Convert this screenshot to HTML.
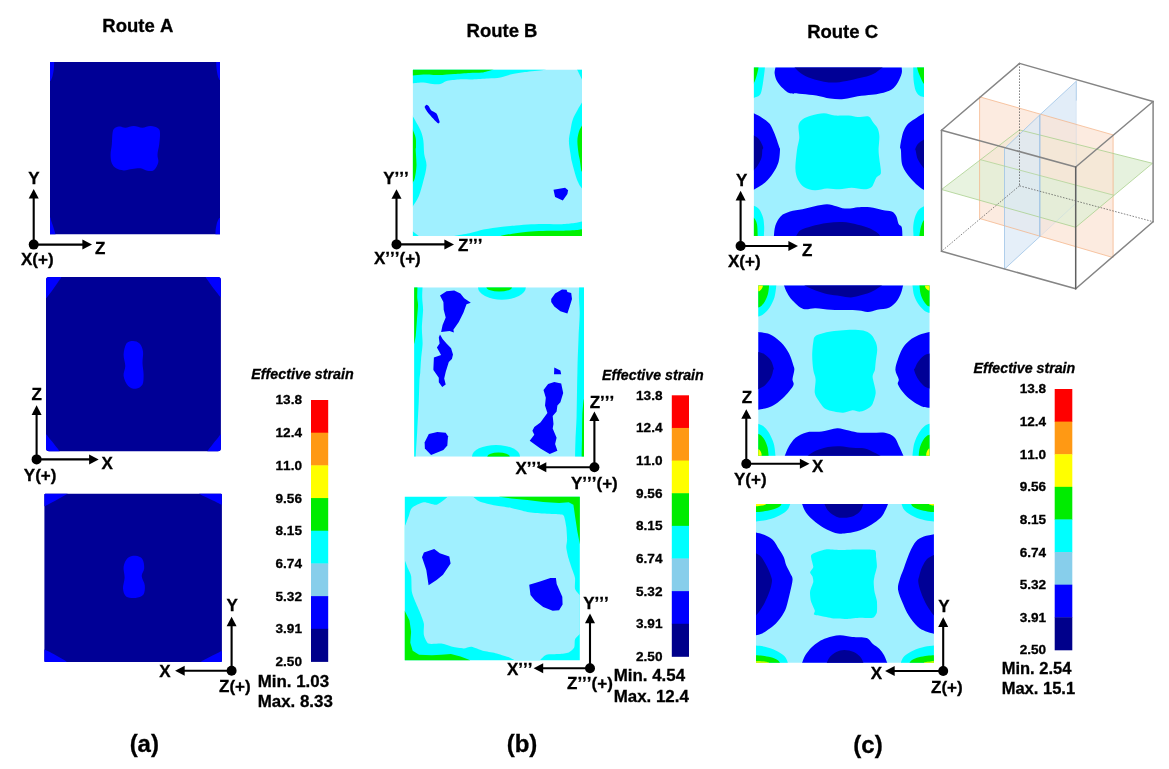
<!DOCTYPE html>
<html><head><meta charset="utf-8"><title>Effective strain - Routes A, B, C</title>
<style>
html,body{margin:0;padding:0;background:#fff;}
body{width:1169px;height:769px;overflow:hidden;font-family:"Liberation Sans",sans-serif;}
svg{display:block;}
text{font-family:"Liberation Sans",sans-serif;font-weight:bold;fill:#000;stroke:#000;stroke-width:0.3px;font-kerning:none;}
.rt{font-size:18.5px;}
.ax{font-size:17px;}
.lv{font-size:13.6px;}
.ti{font-size:14px;font-style:italic;}
.mm{font-size:16.9px;}
.cap{font-size:24px;}
</style></head><body>
<svg width="1169" height="769" viewBox="0 0 1169 769">
<rect width="1169" height="769" fill="#fff"/>
<text x="137.8" y="31.8" text-anchor="middle" class="rt">Route A</text>
<text x="502" y="37.3" text-anchor="middle" class="rt">Route B</text>
<text x="842.6" y="38.1" text-anchor="middle" class="rt">Route C</text>
<text x="144.3" y="752.4" text-anchor="middle" class="cap">(a)</text>
<text x="522" y="752" text-anchor="middle" class="cap">(b)</text>
<text x="868" y="753" text-anchor="middle" class="cap">(c)</text>
<clipPath id="c1"><rect x="50.0" y="62.0" width="170.0" height="172.3" rx="0.0"/></clipPath>
<g clip-path="url(#c1)">
<rect x="49.0" y="61.0" width="172.0" height="174.3" fill="#000096"/>
<path d="M112.7,131.9C113.2,129.1 113.9,128.6 115.2,127.7C116.5,126.8 118.6,126.4 120.3,126.4C122.0,126.4 123.1,127.8 125.4,127.7C127.6,127.6 131.0,126.0 133.8,126.0C136.6,126.0 139.4,127.7 142.3,127.7C145.1,127.7 148.0,125.8 150.7,126.0C153.4,126.1 156.8,127.3 158.3,128.5C159.9,129.8 159.9,130.9 160.0,133.6C160.2,136.3 159.6,141.1 159.2,144.6C158.7,148.1 157.6,151.8 157.5,154.7C157.3,157.7 158.9,159.8 158.3,162.3C157.8,164.9 155.9,168.5 154.1,169.9C152.3,171.4 149.6,171.1 147.3,170.8C145.1,170.5 143.1,168.5 140.6,168.3C138.0,168.0 134.9,168.7 132.1,169.1C129.3,169.5 126.3,170.5 123.7,170.4C121.0,170.2 118.0,169.5 116.1,168.3C114.1,167.1 112.8,165.4 111.8,163.2C110.9,160.9 110.6,157.8 110.6,154.7C110.6,151.6 111.5,148.4 111.8,144.6C112.2,140.8 112.1,134.7 112.7,131.9Z" fill="#0000ff"/>
<path d="M54.2,59.0C54.2,59.5 54.3,60.3 54.2,62.0C54.1,63.7 54.0,66.9 53.8,69.2C53.5,71.5 53.0,73.9 52.6,75.7C52.2,77.4 51.6,78.8 51.2,79.7C50.7,80.6 50.7,80.8 50.0,81.0C49.3,81.2 47.5,81.0 47.0,81.0L47.0,59.0Z" fill="#0000ff"/>
<path d="M216.2,59.0C216.2,59.5 216.1,60.4 216.2,62.0C216.3,63.6 216.3,66.7 216.6,68.8C216.8,71.0 217.3,73.3 217.6,75.0C218.0,76.6 218.5,77.9 218.9,78.7C219.3,79.6 219.3,79.8 220.0,80.0C220.7,80.2 222.5,80.0 223.0,80.0L223.0,59.0Z" fill="#0000ff"/>
<path d="M55.5,237.3C55.5,236.8 55.8,235.7 55.5,234.3C55.2,233.0 54.5,230.8 54.0,229.2C53.5,227.6 53.0,225.9 52.5,224.4C52.0,223.0 51.5,221.6 51.1,220.4C50.7,219.2 50.7,217.8 50.0,217.3C49.3,216.8 47.5,217.3 47.0,217.3L47.0,237.3Z" fill="#0000ff"/>
<path d="M215.4,237.3C215.4,236.8 215.3,235.8 215.4,234.3C215.5,232.8 215.6,230.0 215.9,228.0C216.2,226.1 216.7,223.9 217.1,222.4C217.6,220.9 218.2,219.7 218.7,219.0C219.2,218.2 219.3,218.0 220.0,217.8C220.7,217.6 222.5,217.8 223.0,217.8L223.0,237.3Z" fill="#0000ff"/>
</g>
<g stroke="#000" stroke-width="2.1" fill="#000">
<circle cx="33.7" cy="244.6" r="5" stroke="none"/>
<line x1="33.7" y1="244.6" x2="33.7" y2="196.0"/>
<path d="M33.7,189.0 l-5,9.6 l10,0 Z" stroke="none"/>
<line x1="33.7" y1="244.6" x2="85.0" y2="244.6"/>
<path d="M92.0,244.6 l-9.6,-5 l0,10 Z" stroke="none"/>
</g>
<text x="34.0" y="184.2" text-anchor="middle" class="ax">Y</text>
<text x="95.0" y="253.8" text-anchor="start" class="ax">Z</text>
<text x="21.0" y="265.3" text-anchor="start" class="ax">X(+)</text>
<clipPath id="c2"><rect x="46.0" y="277.1" width="174.9" height="174.2" rx="3.0"/></clipPath>
<g clip-path="url(#c2)">
<rect x="45.0" y="276.1" width="176.9" height="176.2" fill="#000096"/>
<path d="M126.4,343.5C128.0,341.3 130.8,341.0 133.0,341.0C135.2,341.0 137.9,341.8 139.6,343.5C141.3,345.3 142.6,348.3 143.0,351.6C143.5,354.8 142.4,359.2 142.5,363.0C142.6,366.8 143.6,370.9 143.6,374.4C143.6,378.0 143.7,382.1 142.5,384.5C141.2,386.8 138.3,388.5 135.9,388.8C133.5,389.0 130.2,388.0 128.2,385.9C126.1,383.7 124.1,379.2 123.6,375.9C123.1,372.5 125.3,369.4 125.3,365.9C125.3,362.3 123.4,358.1 123.6,354.4C123.8,350.7 124.9,345.8 126.4,343.5Z" fill="#0000ff"/>
<path d="M61.4,274.1C61.4,274.6 62.1,275.5 61.4,277.1C60.7,278.7 58.5,281.4 57.1,283.5C55.7,285.5 54.3,287.6 52.9,289.4C51.6,291.2 50.2,293.0 49.1,294.5C47.9,296.0 47.0,297.7 46.0,298.3C45.0,298.9 43.5,298.3 43.0,298.3L43.0,274.1Z" fill="#0000ff"/>
<path d="M205.5,274.1C205.5,274.6 204.8,275.6 205.5,277.1C206.2,278.6 208.4,281.2 209.8,283.2C211.2,285.2 212.6,287.2 214.0,288.9C215.3,290.7 216.7,292.4 217.8,293.8C219.0,295.3 219.9,296.9 220.9,297.5C221.9,298.1 223.4,297.5 223.9,297.5L223.9,274.1Z" fill="#0000ff"/>
<path d="M59.5,454.3C59.5,453.8 60.1,452.7 59.5,451.3C58.9,449.9 57.0,447.8 55.7,446.2C54.5,444.6 53.2,442.9 52.1,441.4C50.9,440.0 49.7,438.6 48.7,437.4C47.7,436.2 47.0,434.8 46.0,434.3C45.0,433.8 43.5,434.3 43.0,434.3L43.0,454.3Z" fill="#0000ff"/>
<path d="M207.4,454.3C207.4,453.8 206.8,452.7 207.4,451.3C208.0,449.9 209.9,447.8 211.2,446.2C212.4,444.6 213.7,442.9 214.8,441.4C216.0,440.0 217.2,438.6 218.2,437.4C219.2,436.2 220.0,434.8 220.9,434.3C221.8,433.8 223.4,434.3 223.9,434.3L223.9,454.3Z" fill="#0000ff"/>
</g>
<g stroke="#000" stroke-width="2.1" fill="#000">
<circle cx="36.6" cy="459.4" r="5" stroke="none"/>
<line x1="36.6" y1="459.4" x2="36.6" y2="412.3"/>
<path d="M36.6,405.3 l-5,9.6 l10,0 Z" stroke="none"/>
<line x1="36.6" y1="459.4" x2="91.7" y2="459.4"/>
<path d="M98.7,459.4 l-9.6,-5 l0,10 Z" stroke="none"/>
</g>
<text x="36.6" y="400.0" text-anchor="middle" class="ax">Z</text>
<text x="101.5" y="469.0" text-anchor="start" class="ax">X</text>
<text x="23.8" y="481.0" text-anchor="start" class="ax">Y(+)</text>
<clipPath id="c3"><rect x="44.4" y="493.7" width="177.5" height="168.2" rx="1.0"/></clipPath>
<g clip-path="url(#c3)">
<rect x="43.4" y="492.7" width="179.5" height="170.2" fill="#000096"/>
<path d="M127.7,558.0C129.7,556.2 133.0,555.7 135.5,555.8C137.9,556.0 140.9,556.9 142.3,559.0C143.8,561.0 144.3,565.5 144.2,568.3C144.1,571.2 141.6,573.3 141.7,576.1C141.8,579.0 144.6,582.4 144.8,585.5C145.1,588.6 144.8,592.8 143.3,594.8C141.7,596.9 138.3,597.7 135.5,598.0C132.6,598.2 128.2,598.0 126.1,596.4C124.0,594.8 123.3,591.7 123.0,588.6C122.7,585.5 124.5,581.3 124.6,577.7C124.7,574.0 123.1,570.0 123.6,566.8C124.1,563.5 125.7,559.8 127.7,558.0Z" fill="#0000ff"/>
<path d="M67.4,490.7C67.4,491.2 68.5,492.6 67.4,493.7C66.3,494.8 63.1,496.2 61.0,497.4C58.9,498.7 56.7,499.9 54.8,500.9C52.8,502.0 50.7,503.1 49.0,503.9C47.3,504.8 45.7,505.8 44.4,506.2C43.1,506.6 41.9,506.2 41.4,506.2L41.4,490.7Z" fill="#0000ff"/>
<path d="M199.4,490.7C199.4,491.2 198.3,492.6 199.4,493.7C200.5,494.8 203.6,495.9 205.7,497.0C207.8,498.1 209.8,499.1 211.8,500.1C213.7,501.0 215.7,501.9 217.4,502.7C219.1,503.5 220.7,504.4 221.9,504.7C223.2,505.0 224.4,504.7 224.9,504.7L224.9,490.7Z" fill="#0000ff"/>
<path d="M66.9,664.9C66.9,664.4 68.0,663.0 66.9,661.9C65.9,660.8 62.7,659.4 60.6,658.1C58.5,656.9 56.5,655.7 54.5,654.6C52.6,653.6 50.6,652.5 48.9,651.6C47.2,650.8 45.6,649.8 44.4,649.4C43.1,649.0 41.9,649.4 41.4,649.4L41.4,664.9Z" fill="#0000ff"/>
<path d="M200.9,664.9C200.9,664.4 199.9,662.9 200.9,661.9C201.9,660.9 204.9,659.7 206.8,658.6C208.7,657.5 210.6,656.5 212.5,655.5C214.3,654.6 216.1,653.6 217.7,652.9C219.3,652.1 220.7,651.2 221.9,650.9C223.1,650.6 224.4,650.9 224.9,650.9L224.9,664.9Z" fill="#0000ff"/>
</g>
<g stroke="#000" stroke-width="2.1" fill="#000">
<circle cx="231.6" cy="670.7" r="5" stroke="none"/>
<line x1="231.6" y1="670.7" x2="231.6" y2="623.7"/>
<path d="M231.6,616.7 l-5,9.6 l10,0 Z" stroke="none"/>
<line x1="231.6" y1="670.7" x2="182.1" y2="670.7"/>
<path d="M175.1,670.7 l9.6,-5 l0,10 Z" stroke="none"/>
</g>
<text x="232.2" y="611.0" text-anchor="middle" class="ax">Y</text>
<text x="170.5" y="677.0" text-anchor="end" class="ax">X</text>
<text x="219.0" y="691.7" text-anchor="start" class="ax">Z(+)</text>
<rect x="311.0" y="400.00" width="17.2" height="33.09" fill="#ff0000"/>
<rect x="311.0" y="432.69" width="17.2" height="33.09" fill="#ff9914"/>
<rect x="311.0" y="465.38" width="17.2" height="33.09" fill="#ffff00"/>
<rect x="311.0" y="498.06" width="17.2" height="33.09" fill="#00ec00"/>
<rect x="311.0" y="530.75" width="17.2" height="33.09" fill="#00ffff"/>
<rect x="311.0" y="563.44" width="17.2" height="33.09" fill="#87ceeb"/>
<rect x="311.0" y="596.12" width="17.2" height="33.09" fill="#0000ff"/>
<rect x="311.0" y="628.81" width="17.2" height="33.09" fill="#00008b"/>
<text x="302.0" y="404.4" text-anchor="end" class="lv" style="font-size:13.6px">13.8</text>
<text x="302.0" y="437.1" text-anchor="end" class="lv" style="font-size:13.6px">12.4</text>
<text x="302.0" y="469.8" text-anchor="end" class="lv" style="font-size:13.6px">11.0</text>
<text x="302.0" y="502.5" text-anchor="end" class="lv" style="font-size:13.6px">9.56</text>
<text x="302.0" y="535.2" text-anchor="end" class="lv" style="font-size:13.6px">8.15</text>
<text x="302.0" y="567.8" text-anchor="end" class="lv" style="font-size:13.6px">6.74</text>
<text x="302.0" y="600.5" text-anchor="end" class="lv" style="font-size:13.6px">5.32</text>
<text x="302.0" y="633.2" text-anchor="end" class="lv" style="font-size:13.6px">3.91</text>
<text x="302.0" y="665.9" text-anchor="end" class="lv" style="font-size:13.6px">2.50</text>
<text x="302.5" y="378.5" text-anchor="middle" class="ti" style="font-size:14.3px">Effective strain</text>
<text x="257.7" y="686.5" class="mm" style="font-size:16.9px">Min. 1.03</text>
<text x="257.7" y="706.7" class="mm" style="font-size:16.9px">Max. 8.33</text>
<clipPath id="c4"><rect x="412.9" y="69.8" width="169.1" height="166.2" rx="0.0"/></clipPath>
<g clip-path="url(#c4)">
<rect x="411.9" y="68.8" width="171.1" height="168.2" fill="#a0f0ff"/>
<path d="M408.0,83.7C408.7,83.6 410.9,83.4 412.9,83.2C415.0,83.1 420.8,82.4 423.4,82.5C426.0,82.6 430.4,83.8 432.6,84.0C434.9,84.2 438.5,84.4 440.3,84.0C442.2,83.6 444.0,81.6 446.5,80.9C449.0,80.3 455.3,79.6 458.8,79.4C462.3,79.2 468.8,79.5 472.7,79.4C476.6,79.3 484.4,78.9 488.1,78.6C491.8,78.4 497.1,78.2 500.4,77.6C503.7,76.9 509.4,74.7 512.7,74.0C516.0,73.3 520.9,72.6 525.0,72.0C529.1,71.5 540.6,70.3 543.5,69.9C546.4,69.4 546.2,68.8 546.6,68.6L546.6,64.0L408.0,64.0Z" fill="#00ffff"/>
<path d="M408.0,75.7C408.7,75.7 410.9,75.7 412.9,75.5C415.0,75.4 419.9,74.5 423.4,74.5C426.8,74.4 434.7,75.1 438.8,75.1C442.9,75.0 450.1,74.3 454.2,74.0C458.3,73.7 465.9,73.1 469.6,72.9C473.3,72.7 478.9,72.9 481.9,72.5C484.9,72.1 490.3,70.4 491.9,69.9C493.6,69.3 493.9,68.8 494.2,68.6L494.2,64.0L408.0,64.0Z" fill="#00f000"/>
<path d="M576.6,68.6L585.1,68.6L585.1,80.9L582.0,79.4Z" fill="#00ffff"/>
<path d="M411.1,113.3C411.4,113.8 411.9,114.6 412.9,116.4C414.0,118.2 415.9,121.5 417.2,124.1C418.6,126.6 420.1,128.9 421.1,131.8C422.1,134.6 422.9,137.3 423.4,141.0C423.9,144.7 423.7,149.9 424.2,153.9C424.7,158.0 426.6,160.9 426.5,165.4C426.4,169.9 424.7,175.7 423.4,180.8C422.1,185.9 420.5,192.0 418.8,196.2C417.0,200.4 414.2,204.0 412.9,206.2C411.6,208.4 411.4,208.8 411.1,209.3L408.0,209.3L408.0,113.3Z" fill="#00ffff"/>
<path d="M411.8,127.9C412.0,128.3 412.3,128.5 412.9,130.2C413.6,131.9 415.2,135.1 415.7,137.9C416.2,140.7 416.0,145.1 416.0,147.2C416.0,149.2 415.6,147.0 415.7,150.0C415.8,153.0 416.6,160.8 416.5,165.4C416.3,170.0 415.5,174.9 414.9,177.7C414.3,180.5 413.4,181.2 412.9,182.3C412.4,183.5 412.0,184.3 411.8,184.6L408.0,184.6L408.0,127.9Z" fill="#00f000"/>
<path d="M584.3,99.4C583.9,99.9 583.2,100.7 582.0,102.5C580.9,104.3 578.9,107.4 577.4,110.2C575.8,113.0 573.9,116.1 572.8,119.4C571.6,122.8 571.1,126.6 570.5,130.2C569.8,133.8 568.9,137.0 568.9,141.0C568.9,144.9 569.9,150.4 570.5,153.9C571.0,157.5 571.1,158.6 572.0,162.3C572.9,166.0 574.7,172.6 575.8,176.2C577.0,179.8 577.9,181.8 578.9,183.9C580.0,185.9 581.1,187.2 582.0,188.5C582.9,189.8 583.9,191.1 584.3,191.6L586.6,191.6L586.6,99.4Z" fill="#00ffff"/>
<path d="M583.5,123.3C583.3,123.7 582.8,124.2 582.0,125.6C581.2,127.0 579.7,129.2 578.9,131.8C578.2,134.3 577.4,137.3 577.4,141.0C577.3,144.7 578.2,150.9 578.6,153.9C579.0,157.0 579.3,156.6 579.7,159.2C580.1,161.9 580.9,168.0 581.2,170.0C581.6,172.1 581.6,171.0 582.0,171.6C582.4,172.1 583.3,172.8 583.5,173.1L586.6,173.1L586.6,123.3Z" fill="#00f000"/>
<path d="M451.1,237.0C451.5,236.9 451.7,236.4 454.2,235.9C456.7,235.4 465.5,234.0 469.6,233.2C473.7,232.3 480.9,230.1 485.0,229.3C489.1,228.5 496.3,227.5 500.4,227.0C504.5,226.5 511.7,225.8 515.8,225.5C519.9,225.1 527.1,224.4 531.2,224.2C535.3,224.0 542.5,223.9 546.6,223.9C550.7,223.9 558.3,224.3 562.0,224.2C565.7,224.1 571.6,223.5 574.3,223.1C577.0,222.8 580.6,221.9 582.0,221.6C583.4,221.3 584.7,221.2 585.1,221.1L585.1,242.4L451.1,242.4Z" fill="#00ffff"/>
<path d="M497.3,237.0C497.7,236.9 497.9,236.4 500.4,235.9C502.9,235.4 511.7,233.7 515.8,233.2C519.9,232.6 527.1,231.9 531.2,231.6C535.3,231.3 542.5,230.9 546.6,230.8C550.7,230.7 557.9,230.9 562.0,230.8C566.1,230.7 574.7,230.3 577.4,230.1C580.1,229.9 581.0,229.4 582.0,229.3C583.0,229.2 584.7,229.2 585.1,229.1L585.1,242.4L497.3,242.4Z" fill="#00f000"/>
<path d="M411.1,230.1L412.9,231.6L418.8,235.9L420.3,237.8L411.1,237.8Z" fill="#00ffff"/>
<path d="M424.6,107.1C424.6,106.4 426.1,104.9 426.5,104.8C426.9,104.7 428.3,105.8 428.8,106.3C429.3,106.9 430.3,109.5 431.1,110.2C431.9,110.9 435.6,112.4 436.5,113.6C437.3,114.7 439.4,120.8 439.6,121.7C439.7,122.7 438.7,123.7 438.0,123.3C437.3,122.9 433.7,119.1 432.6,117.9C431.6,116.7 428.0,112.8 427.2,111.7C426.4,110.7 424.7,107.8 424.6,107.1Z" fill="#0000ff"/>
<path d="M553.5,189.7L565.1,187.7L568.1,190.3L567.4,193.9L562.8,200.5L555.1,197.0Z" fill="#0000ff"/>
</g>
<g stroke="#000" stroke-width="2.1" fill="#000">
<circle cx="396.5" cy="244.4" r="5" stroke="none"/>
<line x1="396.5" y1="244.4" x2="396.5" y2="196.2"/>
<path d="M396.5,189.2 l-5,9.6 l10,0 Z" stroke="none"/>
<line x1="396.5" y1="244.4" x2="447.0" y2="244.4"/>
<path d="M454.0,244.4 l-9.6,-5 l0,10 Z" stroke="none"/>
</g>
<text x="395.9" y="184.0" text-anchor="middle" class="ax">Y’’’</text>
<text x="458.0" y="250.8" text-anchor="start" class="ax">Z’’’</text>
<text x="374.0" y="264.2" text-anchor="start" class="ax">X’’’(+)</text>
<clipPath id="c5"><rect x="414.2" y="287.4" width="169.8" height="169.1" rx="0.0"/></clipPath>
<g clip-path="url(#c5)">
<rect x="413.2" y="286.4" width="171.8" height="171.1" fill="#a0f0ff"/>
<path d="M422.6,285.1C422.6,286.7 422.1,294.1 422.2,297.4C422.2,300.7 423.1,305.6 423.1,309.7C423.0,313.8 421.9,323.7 421.9,328.2C421.8,332.7 422.7,339.5 422.6,343.6C422.5,347.7 421.4,355.2 421.1,359.0C420.8,362.8 420.5,369.2 420.3,371.9C420.1,374.6 419.8,375.4 419.5,379.2C419.3,383.1 419.1,393.8 418.8,400.8C418.5,407.8 417.6,424.2 417.2,431.6C416.8,439.0 415.9,452.4 415.7,456.5C415.5,460.6 415.7,461.6 415.7,462.4L408.0,462.4L408.0,285.1Z" fill="#00ffff"/>
<path d="M417.5,285.1C417.5,286.7 417.2,294.7 417.2,297.4C417.3,300.1 418.1,302.0 418.0,305.1C418.0,308.2 417.2,316.4 416.9,320.5C416.6,324.6 416.1,332.8 415.7,335.9C415.3,339.0 414.6,342.4 414.2,343.6C413.7,344.8 412.8,344.9 412.6,345.1L408.0,345.1L408.0,285.1Z" fill="#00f000"/>
<path d="M579.2,285.1C579.2,286.7 578.9,293.7 578.9,297.4C579.0,301.1 579.7,307.7 579.7,312.8C579.7,317.9 578.9,329.7 578.6,335.9C578.4,342.1 577.9,354.2 577.7,359.0C577.5,363.8 577.5,368.4 577.4,371.9C577.3,375.4 577.2,379.5 577.1,385.4C577.0,391.3 576.8,409.0 576.6,416.2C576.4,423.4 575.7,433.9 575.5,439.3C575.3,444.7 575.1,453.5 575.1,456.5C575.0,459.6 575.1,461.6 575.1,462.4L589.7,462.4L589.7,285.1Z" fill="#00ffff"/>
<path d="M585.1,397.7C584.9,398.1 583.9,398.3 583.5,400.8C583.2,403.3 582.5,411.1 582.3,416.2C582.1,421.3 582.1,433.9 582.0,439.3C581.9,444.7 581.7,453.5 581.7,456.5C581.7,459.6 581.7,461.6 581.7,462.4L589.7,462.4L589.7,397.7Z" fill="#00f000"/>
<path d="M478.0,287.4 A23.9,12.3 0 0 0 525.8,287.4 L525.8,282.4 L478.0,282.4 Z" fill="#00ffff"/>
<path d="M486.5,287.4 A12.7,4.2 0 0 0 511.9,287.4 L511.9,282.4 L486.5,282.4 Z" fill="#00f000"/>
<path d="M472.0,456.5 A24.0,11.5 0 0 1 520.0,456.5 L520.0,461.5 L472.0,461.5 Z" fill="#00ffff"/>
<path d="M487.3,456.5 A11.2,4.0 0 0 1 509.7,456.5 L509.7,461.5 L487.3,461.5 Z" fill="#00f000"/>
<path d="M440.0,295.6L446.5,291.2L454.2,290.5L460.4,293.5L464.2,298.2L470.8,302.8L466.5,304.3L463.4,312.8L458.8,322.0L453.4,329.7L453.9,332.5L449.6,331.0L441.1,332.0L442.6,325.1L445.7,317.4L443.7,309.7L443.4,302.0Z" fill="#0000ff"/>
<path d="M440.0,334.4L442.6,339.0L446.5,343.6L451.1,348.2L453.0,354.4L451.9,359.0L448.8,362.1L445.7,371.9L444.2,378.5L445.7,384.6L442.2,386.9L438.8,382.3L438.8,377.7L433.4,370.0L433.4,368.2L433.9,357.5L441.1,355.1L436.9,347.4L439.6,343.6L438.8,337.4Z" fill="#0000ff"/>
<path d="M551.2,298.9L555.1,293.5L562.0,289.4L566.6,289.7L567.4,292.0L571.2,293.1L572.0,298.9L569.7,306.6L567.4,313.6L560.4,311.3L554.3,306.6L551.2,302.0Z" fill="#0000ff"/>
<path d="M554.3,367.5L560.4,370.5L561.2,374.3L554.0,374.3Z" fill="#0000ff"/>
<path d="M543.5,390.0L548.1,383.9L554.3,382.0L561.2,383.6L563.2,393.1L560.4,402.3L557.4,405.4L556.6,411.6L552.7,415.9L553.5,423.9L552.7,428.5L556.6,437.8L555.1,443.9L557.4,450.8L549.7,453.9L540.4,448.5L529.7,440.8L534.3,434.7L532.4,430.8L534.3,427.0L540.4,422.4L547.4,413.1L545.0,405.4L545.8,397.7Z" fill="#0000ff"/>
<path d="M424.6,442.4L428.8,433.9L437.3,432.1L445.7,432.8L448.0,436.2L447.3,445.5L443.4,450.1L431.1,455.0L424.9,448.5Z" fill="#0000ff"/>
</g>
<g stroke="#000" stroke-width="2.1" fill="#000">
<circle cx="594.4" cy="467.3" r="5" stroke="none"/>
<line x1="594.4" y1="467.3" x2="594.4" y2="418.5"/>
<path d="M594.4,411.5 l-5,9.6 l10,0 Z" stroke="none"/>
<line x1="594.4" y1="467.3" x2="543.7" y2="467.3"/>
<path d="M536.7,467.3 l9.6,-5 l0,10 Z" stroke="none"/>
</g>
<text x="602.0" y="408.0" text-anchor="middle" class="ax">Z’’’</text>
<text x="541.0" y="474.0" text-anchor="end" class="ax">X’’’</text>
<text x="571.0" y="489.0" text-anchor="start" class="ax">Y’’’(+)</text>
<clipPath id="c6"><rect x="404.8" y="496.8" width="175.0" height="163.5" rx="0.0"/></clipPath>
<g clip-path="url(#c6)">
<rect x="403.8" y="495.8" width="177.0" height="165.5" fill="#00ffff"/>
<path d="M401.6,526.2C402.0,522.3 403.9,527.4 404.8,526.2C405.6,525.0 407.9,518.0 408.8,515.9C409.6,513.7 410.2,509.5 411.9,507.9C413.7,506.3 421.0,502.7 423.9,502.3C426.7,502.0 433.8,505.4 436.6,504.7C439.4,504.1 446.2,498.1 447.7,496.8C449.2,495.5 446.5,494.0 449.3,493.6C452.1,493.2 468.8,493.2 471.6,493.6C474.4,494.0 472.3,495.8 473.2,496.8C474.1,497.7 477.0,500.5 479.6,501.5C482.2,502.6 491.8,504.8 495.5,505.5C499.2,506.3 507.7,507.2 511.4,507.9C515.1,508.7 523.6,511.2 527.3,511.9C531.0,512.5 539.5,513.2 543.2,513.5C546.9,513.8 556.7,514.0 559.1,514.3C561.5,514.6 563.0,514.4 563.9,515.9C564.7,517.4 565.9,524.2 566.3,527.0C566.6,529.8 567.1,537.3 567.1,539.7C567.1,542.1 566.1,545.5 566.3,547.7C566.5,549.9 568.0,556.4 568.7,558.8C569.3,561.2 571.1,566.1 571.8,568.4C572.6,570.6 574.6,575.5 575.0,577.9C575.4,580.3 574.5,586.7 575.0,588.7C575.6,590.7 578.9,594.2 579.8,595.1C580.7,596.0 582.6,592.3 583.0,596.7C583.3,601.0 583.3,628.1 583.0,632.5C582.6,636.8 580.7,633.2 579.8,634.1C578.9,634.9 575.7,638.1 575.0,639.6C574.4,641.2 575.0,646.1 574.2,647.6C573.5,649.1 570.4,651.6 568.7,652.4C566.9,653.1 561.7,653.7 559.1,654.0C556.5,654.2 548.6,654.0 546.4,654.8C544.2,655.5 540.9,659.3 540.0,660.3C539.1,661.3 541.2,663.1 538.4,663.5C535.6,663.9 518.9,663.9 516.1,663.5C513.4,663.1 515.5,661.1 514.6,660.3C513.6,659.6 510.4,658.0 508.2,657.1C506.0,656.3 498.4,653.9 495.5,653.2C492.5,652.4 485.5,651.5 482.7,650.8C480.0,650.0 473.8,647.1 471.6,646.8C469.4,646.5 465.9,648.4 463.6,648.4C461.4,648.4 455.1,647.4 452.5,646.8C449.9,646.2 444.2,644.0 441.4,643.6C438.6,643.3 430.7,644.6 428.6,643.6C426.6,642.6 424.4,637.2 423.9,634.9C423.3,632.5 424.2,626.1 423.9,623.7C423.5,621.3 421.6,616.6 420.7,614.2C419.8,611.8 416.9,605.6 415.9,603.0C414.9,600.4 412.5,595.1 411.9,591.9C411.4,588.8 411.6,578.7 411.1,576.0C410.7,573.3 408.7,570.2 408.0,568.4C407.2,566.6 405.5,561.4 404.8,560.4C404.0,559.4 402.0,563.6 401.6,559.6C401.2,555.6 401.2,530.1 401.6,526.2Z" fill="#a0f0ff"/>
<path d="M499.4,496.8L511.4,498.4L527.3,500.0L543.2,501.9L559.1,503.1L568.7,502.3L573.4,504.7L575.0,515.9L577.4,531.8L579.8,543.7L583.0,545.3L583.0,492.0L499.4,492.0Z" fill="#00f000"/>
<path d="M404.8,611.0L409.5,620.6L411.1,631.7L410.3,642.8L412.7,650.8L419.1,654.8L431.8,655.2L441.4,654.8L450.9,654.0L460.5,656.4L468.4,659.5L470.0,660.3L470.0,665.1L400.0,665.1L400.0,609.4Z" fill="#00f000"/>
<path d="M422.0,557.2L423.9,552.5L434.2,549.0L439.8,553.3L449.3,556.4L450.6,563.6L443.0,574.7L436.6,580.0L428.6,585.2L426.3,570.0Z" fill="#0000ff"/>
<path d="M529.2,584.8L540.0,581.6L550.4,577.9L555.9,577.9L556.7,584.0L559.1,589.5L562.3,596.7L562.6,604.6L559.1,610.2L552.7,610.7L543.2,607.0L535.2,600.7L530.5,595.1Z" fill="#0000ff"/>
</g>
<g stroke="#000" stroke-width="2.1" fill="#000">
<circle cx="590.0" cy="668.2" r="5" stroke="none"/>
<line x1="590.0" y1="668.2" x2="590.0" y2="620.6"/>
<path d="M590.0,613.6 l-5,9.6 l10,0 Z" stroke="none"/>
<line x1="590.0" y1="668.2" x2="540.6" y2="668.2"/>
<path d="M533.6,668.2 l9.6,-5 l0,10 Z" stroke="none"/>
</g>
<text x="596.0" y="608.5" text-anchor="middle" class="ax">Y’’’</text>
<text x="532.5" y="675.0" text-anchor="end" class="ax">X’’’</text>
<text x="567.0" y="689.2" text-anchor="start" class="ax">Z’’’(+)</text>
<rect x="671.8" y="395.30" width="17.2" height="33.04" fill="#ff0000"/>
<rect x="671.8" y="427.94" width="17.2" height="33.04" fill="#ff9914"/>
<rect x="671.8" y="460.57" width="17.2" height="33.04" fill="#ffff00"/>
<rect x="671.8" y="493.21" width="17.2" height="33.04" fill="#00ec00"/>
<rect x="671.8" y="525.85" width="17.2" height="33.04" fill="#00ffff"/>
<rect x="671.8" y="558.49" width="17.2" height="33.04" fill="#87ceeb"/>
<rect x="671.8" y="591.12" width="17.2" height="33.04" fill="#0000ff"/>
<rect x="671.8" y="623.76" width="17.2" height="33.04" fill="#00008b"/>
<text x="662.5" y="399.7" text-anchor="end" class="lv" style="font-size:13.6px">13.8</text>
<text x="662.5" y="432.3" text-anchor="end" class="lv" style="font-size:13.6px">12.4</text>
<text x="662.5" y="465.0" text-anchor="end" class="lv" style="font-size:13.6px">11.0</text>
<text x="662.5" y="497.6" text-anchor="end" class="lv" style="font-size:13.6px">9.56</text>
<text x="662.5" y="530.2" text-anchor="end" class="lv" style="font-size:13.6px">8.15</text>
<text x="662.5" y="562.9" text-anchor="end" class="lv" style="font-size:13.6px">6.74</text>
<text x="662.5" y="595.5" text-anchor="end" class="lv" style="font-size:13.6px">5.32</text>
<text x="662.5" y="628.2" text-anchor="end" class="lv" style="font-size:13.6px">3.91</text>
<text x="662.5" y="660.8" text-anchor="end" class="lv" style="font-size:13.6px">2.50</text>
<text x="652.8" y="380.0" text-anchor="middle" class="ti" style="font-size:14.2px">Effective strain</text>
<text x="613.7" y="681.3" class="mm" style="font-size:16.9px">Min. 4.54</text>
<text x="613.7" y="701.6" class="mm" style="font-size:16.9px">Max. 12.4</text>
<clipPath id="c7"><rect x="753.9" y="67.4" width="170.1" height="168.6" rx="0.0"/></clipPath>
<g clip-path="url(#c7)">
<rect x="752.9" y="66.4" width="172.1" height="170.6" fill="#a0f0ff"/>
<path d="M775.4,64.0C775.4,64.6 775.5,65.8 775.4,67.4C775.3,68.9 774.4,71.0 774.6,73.2C774.9,75.5 775.5,78.4 776.9,80.9C778.4,83.5 780.9,86.6 783.1,88.6C785.3,90.7 786.8,92.4 790.0,93.3C793.2,94.2 798.0,93.6 802.4,94.0C806.7,94.4 811.6,94.8 816.2,95.6C820.8,96.3 825.5,98.1 830.1,98.6C834.7,99.2 839.3,99.5 843.9,99.1C848.6,98.7 853.2,97.1 857.8,96.3C862.4,95.6 867.8,95.3 871.7,94.8C875.5,94.3 877.6,94.2 880.9,93.3C884.2,92.4 888.8,91.2 891.7,89.4C894.5,87.6 896.2,85.2 897.8,82.5C899.5,79.8 901.0,75.8 901.7,73.2C902.3,70.7 901.7,68.9 901.7,67.4C901.7,65.8 901.7,64.6 901.7,64.0Z" fill="#0000ff"/>
<path d="M791.6,64.0C792.1,64.6 793.1,65.8 794.7,67.4C796.2,68.9 798.0,71.4 800.8,73.2C803.6,75.1 807.7,77.2 811.6,78.6C815.4,80.0 819.8,81.1 823.9,81.7C828.0,82.4 831.9,82.7 836.2,82.5C840.6,82.2 845.5,81.1 850.1,80.2C854.7,79.3 860.1,78.1 864.0,77.1C867.8,76.1 870.1,75.6 873.2,74.0C876.3,72.4 880.4,69.1 882.4,67.4C884.5,65.7 885.0,64.6 885.5,64.0Z" fill="#000096"/>
<path d="M750.0,111.0C750.6,111.4 751.8,112.1 753.8,113.3C755.9,114.4 759.8,116.2 762.3,117.9C764.9,119.6 767.5,121.2 769.2,123.3C771.0,125.3 771.9,127.8 773.1,130.2C774.3,132.7 775.2,135.1 776.2,137.9C777.2,140.7 778.6,145.1 779.3,147.2C779.9,149.2 780.2,147.5 780.0,150.0C779.9,152.5 779.6,158.5 778.5,162.3C777.3,166.2 775.3,169.8 773.1,173.1C770.9,176.4 768.6,179.6 765.4,182.3C762.2,185.1 756.4,188.1 753.8,189.7C751.3,191.3 750.6,191.5 750.0,191.9Z" fill="#0000ff"/>
<path d="M750.0,133.3C750.6,133.7 752.3,134.6 753.8,135.6C755.4,136.6 757.7,137.5 759.2,139.5C760.8,141.4 762.6,145.4 763.1,147.2C763.6,148.9 762.6,148.2 762.3,150.0C762.1,151.8 762.3,155.1 761.5,157.7C760.8,160.3 759.0,163.3 757.7,165.4C756.4,167.5 755.1,168.7 753.8,170.0C752.6,171.3 750.6,172.6 750.0,173.1Z" fill="#000096"/>
<path d="M928.6,111.0C927.9,111.4 926.1,112.1 924.0,113.3C922.0,114.4 918.9,116.2 916.3,117.9C913.7,119.6 910.7,121.2 908.6,123.3C906.6,125.3 905.1,127.8 904.0,130.2C902.8,132.7 902.3,135.1 901.7,137.9C901.0,140.7 900.3,145.1 900.1,147.2C900.0,149.2 900.5,147.0 900.9,150.0C901.3,153.0 900.9,160.8 902.4,165.4C904.0,170.0 907.6,174.4 910.1,177.7C912.7,181.1 915.5,183.4 917.8,185.4C920.2,187.5 922.2,188.9 924.0,190.0C925.8,191.2 927.9,192.0 928.6,192.3Z" fill="#0000ff"/>
<path d="M928.6,136.4C927.9,136.9 925.8,138.2 924.0,139.5C922.2,140.7 919.4,142.3 917.8,144.1C916.3,145.9 915.2,149.2 914.8,150.2C914.4,151.2 915.0,148.5 915.5,150.0C916.1,151.5 916.4,156.2 917.8,159.2C919.3,162.3 922.2,166.3 924.0,168.5C925.8,170.7 927.9,171.7 928.6,172.3Z" fill="#000096"/>
<path d="M798.5,125.6C799.0,122.8 800.4,120.9 802.4,119.4C804.3,117.9 808.4,116.5 811.6,115.6C814.8,114.7 820.4,113.3 823.9,113.3C827.4,113.3 831.0,115.2 834.7,115.6C838.4,115.9 845.1,115.4 848.6,115.6C852.0,115.8 854.8,117.0 857.8,117.1C860.8,117.2 866.3,115.5 868.6,116.4C870.9,117.2 871.8,120.7 873.2,122.5C874.6,124.4 876.9,126.6 877.8,128.7C878.7,130.8 879.2,133.2 879.4,136.4C879.5,139.6 878.6,146.6 878.6,150.0C878.6,153.4 879.0,155.8 879.4,159.2C879.7,162.7 881.4,170.3 880.9,173.1C880.4,175.9 877.7,175.6 876.3,177.7C874.9,179.8 873.5,185.2 871.7,187.0C869.8,188.7 867.0,189.2 864.0,189.3C860.9,189.4 855.3,187.7 851.6,187.7C847.9,187.7 843.0,189.2 839.3,189.3C835.6,189.4 830.7,188.3 827.0,188.5C823.3,188.7 818.1,190.6 814.7,190.3C811.2,190.1 806.4,188.6 803.9,187.0C801.4,185.3 799.0,182.0 797.7,179.3C796.5,176.5 795.5,172.9 795.4,168.5C795.3,164.1 796.4,154.6 797.0,150.0C797.5,145.4 799.0,141.6 799.3,137.9C799.5,134.3 798.0,128.4 798.5,125.6Z" fill="#00ffff"/>
<path d="M764.9,64.0C764.9,64.6 765.1,65.3 764.9,67.4C764.8,69.4 764.3,73.0 763.9,76.3C763.4,79.6 763.0,84.0 762.3,87.1C761.7,90.2 761.4,93.0 760.0,94.8C758.6,96.6 755.5,97.2 753.8,97.9C752.2,98.5 750.6,98.5 750.0,98.6L750.0,64.0Z" fill="#00ffff"/>
<path d="M758.5,64.0C758.5,64.6 758.7,65.6 758.5,67.4C758.2,69.2 757.7,72.1 756.9,74.8C756.2,77.4 755.0,81.6 753.8,83.2C752.7,84.9 750.6,84.5 750.0,84.8L750.0,64.0Z" fill="#00f000"/>
<path d="M913.2,64.0C913.2,64.6 913.2,64.8 913.2,67.4C913.3,70.0 913.2,75.6 913.5,79.4C913.9,83.2 914.6,87.5 915.5,90.2C916.5,92.9 918.0,94.4 919.4,95.6C920.8,96.7 922.5,96.8 924.0,97.1C925.5,97.4 927.9,97.5 928.6,97.6L928.6,64.0Z" fill="#00ffff"/>
<path d="M917.1,64.0C917.1,64.6 916.7,65.6 917.1,67.4C917.5,69.2 918.2,72.0 919.4,74.8C920.5,77.6 922.5,82.2 924.0,84.0C925.5,85.8 927.9,85.3 928.6,85.6L928.6,64.0Z" fill="#00f000"/>
<path d="M773.9,239.3C773.9,238.7 773.6,238.2 773.9,235.9C774.1,233.6 774.3,228.7 775.4,225.5C776.6,222.2 778.4,218.5 780.8,216.2C783.2,213.9 786.4,212.8 790.0,211.6C793.6,210.4 798.2,210.2 802.4,209.3C806.5,208.4 810.6,207.1 814.7,206.2C818.8,205.4 823.4,204.2 827.0,204.2C830.6,204.2 833.7,205.5 836.2,206.2C838.8,206.9 840.1,207.8 842.4,208.2C844.7,208.6 847.5,208.7 850.1,208.5C852.7,208.4 854.5,207.5 857.8,207.3C861.1,207.1 866.0,206.8 870.1,207.3C874.2,207.7 878.8,209.3 882.4,210.1C886.0,210.8 889.4,210.6 891.7,211.6C894.0,212.6 895.1,214.2 896.3,216.2C897.4,218.3 897.7,222.1 898.6,223.9C899.5,225.7 901.0,225.0 901.7,227.0C902.3,229.0 902.3,233.9 902.4,235.9C902.6,238.0 902.4,238.7 902.4,239.3Z" fill="#0000ff"/>
<path d="M793.9,239.3C794.3,238.7 795.0,237.5 796.2,235.9C797.4,234.4 798.2,231.7 800.8,230.1C803.4,228.5 807.2,227.4 811.6,226.2C816.0,225.1 821.9,223.8 827.0,223.1C832.1,222.5 837.3,221.8 842.4,222.1C847.5,222.3 853.2,223.6 857.8,224.7C862.4,225.8 866.8,227.1 870.1,228.5C873.4,229.9 876.1,231.9 877.8,233.2C879.5,234.4 879.4,234.9 880.1,235.9C880.9,237.0 882.0,238.7 882.4,239.3Z" fill="#000096"/>
<path d="M750.0,204.7C750.6,204.8 752.3,205.0 753.8,205.7C755.4,206.5 757.7,207.3 759.2,209.3C760.8,211.3 762.3,214.8 763.1,217.8C763.9,220.7 764.0,224.0 764.2,227.0C764.3,230.0 763.9,233.9 763.9,235.9C763.8,238.0 763.9,238.7 763.9,239.3L750.0,239.3Z" fill="#00ffff"/>
<path d="M750.0,216.2C750.6,216.5 752.7,216.5 753.8,217.8C755.0,219.0 756.3,220.9 756.9,223.9C757.6,226.9 757.6,233.4 757.7,235.9C757.8,238.5 757.7,238.7 757.7,239.3L750.0,239.3Z" fill="#00f000"/>
<path d="M928.6,205.1C927.9,205.3 925.7,205.4 924.0,206.2C922.3,207.0 920.2,208.1 918.6,210.1C917.1,212.0 915.7,214.9 914.8,217.8C913.9,220.6 913.4,224.0 913.2,227.0C913.0,230.0 913.5,233.9 913.5,235.9C913.6,238.0 913.5,238.7 913.5,239.3L928.6,239.3Z" fill="#00ffff"/>
<path d="M928.6,218.5C927.9,218.8 925.3,218.7 924.0,220.1C922.7,221.5 921.7,224.4 920.9,227.0C920.2,229.6 919.6,233.9 919.4,235.9C919.1,238.0 919.4,238.7 919.4,239.3L928.6,239.3Z" fill="#00f000"/>
</g>
<g stroke="#000" stroke-width="2.1" fill="#000">
<circle cx="740.6" cy="246.0" r="5" stroke="none"/>
<line x1="740.6" y1="246.0" x2="740.6" y2="197.8"/>
<path d="M740.6,190.8 l-5,9.6 l10,0 Z" stroke="none"/>
<line x1="740.6" y1="246.0" x2="791.0" y2="246.0"/>
<path d="M798.0,246.0 l-9.6,-5 l0,10 Z" stroke="none"/>
</g>
<text x="741.6" y="185.7" text-anchor="middle" class="ax">Y</text>
<text x="802.0" y="256.0" text-anchor="start" class="ax">Z</text>
<text x="728.0" y="266.5" text-anchor="start" class="ax">X(+)</text>
<clipPath id="c8"><rect x="758.3" y="285.4" width="171.2" height="170.4" rx="0.0"/></clipPath>
<g clip-path="url(#c8)">
<rect x="757.3" y="284.4" width="173.2" height="172.4" fill="#a0f0ff"/>
<path d="M783.3,282.0C783.4,282.6 783.4,283.6 784.0,285.4C784.7,287.2 785.7,290.3 787.1,292.8C788.5,295.3 789.8,297.8 792.5,300.5C795.2,303.2 799.4,307.7 803.3,308.9C807.1,310.2 811.0,308.0 815.6,308.2C820.2,308.3 825.9,309.4 831.0,309.7C836.1,310.0 841.8,309.9 846.4,310.0C851.0,310.2 855.1,310.2 858.7,310.5C862.3,310.8 864.9,312.2 868.0,312.0C871.0,311.9 873.6,310.5 877.2,309.7C880.8,308.9 886.2,308.9 889.5,307.4C892.8,305.9 895.3,302.9 897.2,300.5C899.1,298.0 900.1,295.3 901.1,292.8C902.0,290.3 902.6,287.2 903.1,285.4C903.5,283.6 903.6,282.6 903.7,282.0Z" fill="#0000ff"/>
<path d="M800.2,282.0C801.0,282.6 802.2,284.0 804.8,285.4C807.4,286.8 811.7,289.0 815.6,290.5C819.4,292.0 823.8,293.4 827.9,294.3C832.0,295.2 836.4,295.3 840.2,295.9C844.1,296.4 847.4,297.5 851.0,297.4C854.6,297.3 858.2,296.1 861.8,295.1C865.4,294.1 869.2,292.9 872.6,291.2C875.9,289.6 879.6,286.9 881.8,285.4C884.0,283.8 885.0,282.6 885.7,282.0Z" fill="#000096"/>
<path d="M754.0,331.6C754.7,331.7 756.0,331.7 758.3,332.0C760.6,332.4 764.7,332.4 767.9,333.6C771.0,334.7 774.3,336.8 777.1,339.0C779.9,341.2 782.6,343.9 784.8,346.7C787.0,349.5 788.8,352.8 790.2,355.9C791.6,359.0 792.6,362.8 793.3,365.2C794.0,367.5 794.5,367.7 794.3,370.0C794.2,372.3 792.7,376.7 792.5,379.2C792.3,381.8 794.6,382.6 793.3,385.4C792.0,388.2 787.7,393.1 784.8,396.2C781.8,399.3 778.4,402.0 775.6,403.9C772.7,405.8 770.7,406.8 767.9,407.7C765.0,408.7 760.6,409.3 758.3,409.7C756.0,410.2 754.7,410.2 754.0,410.3Z" fill="#0000ff"/>
<path d="M754.0,351.3C754.7,351.4 756.5,351.6 758.3,352.1C760.1,352.6 762.7,353.0 764.8,354.4C766.9,355.8 769.5,358.2 770.9,360.5C772.4,362.8 773.3,366.7 773.7,368.2C774.1,369.8 773.7,368.4 773.2,370.0C772.8,371.6 772.4,375.1 770.9,377.7C769.5,380.3 766.9,383.5 764.8,385.4C762.7,387.3 760.1,388.4 758.3,389.2C756.5,390.1 754.7,390.5 754.0,390.8Z" fill="#000096"/>
<path d="M934.2,331.3C933.4,331.4 932.1,331.4 929.5,332.0C927.0,332.7 922.1,333.7 918.8,335.1C915.4,336.5 912.2,338.3 909.5,340.5C906.8,342.7 904.5,345.1 902.6,348.2C900.7,351.3 899.2,355.4 898.0,359.0C896.8,362.6 895.2,366.6 895.4,370.0C895.5,373.4 898.3,376.8 898.7,379.2C899.2,381.7 897.0,382.1 898.0,384.6C899.0,387.2 902.2,391.7 904.9,394.6C907.6,397.6 911.1,400.3 914.1,402.3C917.2,404.4 920.8,406.1 923.4,407.0C926.0,407.9 927.8,407.5 929.5,407.7C931.3,407.9 933.4,408.1 934.2,408.2Z" fill="#0000ff"/>
<path d="M934.2,352.1C933.4,352.3 931.3,353.0 929.5,353.6C927.8,354.2 925.3,354.5 923.4,355.9C921.5,357.3 919.4,360.0 918.0,362.1C916.6,364.1 915.6,366.9 914.9,368.2C914.3,369.6 913.8,368.4 914.1,370.0C914.5,371.6 915.7,375.1 917.2,377.7C918.8,380.3 921.3,383.6 923.4,385.4C925.4,387.2 927.8,387.7 929.5,388.5C931.3,389.2 933.4,389.8 934.2,390.0Z" fill="#000096"/>
<path d="M812.2,355.9C812.2,351.7 812.8,345.1 813.3,342.1C813.8,339.1 813.4,337.4 815.6,335.9C817.8,334.4 824.2,332.9 827.9,332.0C831.6,331.2 836.5,330.9 840.2,330.5C843.9,330.2 849.1,329.7 852.6,329.7C856.0,329.7 860.6,329.8 863.3,330.5C866.1,331.2 869.2,332.6 871.0,334.4C872.9,336.1 874.7,339.7 875.7,342.1C876.6,344.4 877.2,346.8 877.2,349.8C877.2,352.8 876.0,359.0 875.7,362.1C875.3,365.1 875.3,367.9 874.9,370.0C874.4,372.1 872.7,374.1 872.6,376.2C872.5,378.2 873.6,381.3 874.1,383.9C874.6,386.4 875.9,390.1 875.7,393.1C875.4,396.1 873.7,401.6 872.6,403.9C871.4,406.2 869.8,407.3 868.0,408.5C866.1,409.7 862.6,411.3 860.3,411.6C857.9,411.9 855.1,410.2 852.6,410.3C850.0,410.5 846.1,412.6 843.3,412.8C840.5,413.0 836.8,412.2 834.1,411.6C831.3,410.9 827.1,410.1 824.8,408.5C822.5,406.9 820.2,403.1 818.7,400.8C817.2,398.5 815.3,396.3 814.8,393.1C814.4,389.9 815.8,382.7 815.6,379.2C815.4,375.8 813.8,373.5 813.3,370.0C812.8,366.5 812.2,360.1 812.2,355.9Z" fill="#00ffff"/>
<path d="M776.3,282.4C776.3,282.9 776.6,282.9 776.3,285.4C776.0,287.9 775.6,293.5 774.5,297.2C773.4,300.9 771.3,304.9 769.5,307.7C767.6,310.6 765.2,312.8 763.3,314.2C761.5,315.7 759.6,316.0 758.3,316.4C757.0,316.8 755.8,316.4 755.3,316.4L755.3,282.4Z" fill="#00ffff"/>
<path d="M769.1,282.4C769.1,282.9 769.3,283.5 769.1,285.4C768.9,287.3 768.7,291.1 768.0,293.8C767.3,296.4 766.1,299.2 765.0,301.2C763.9,303.3 762.4,304.8 761.3,305.9C760.2,306.9 759.3,307.1 758.3,307.4C757.3,307.7 755.8,307.4 755.3,307.4L755.3,282.4Z" fill="#00f000"/>
<path d="M762.9,282.4C762.9,282.9 763.0,284.5 762.9,285.4C762.8,286.3 762.7,286.9 762.4,287.6C762.1,288.4 761.6,289.1 761.2,289.6C760.7,290.2 760.1,290.6 759.6,290.9C759.1,291.2 759.0,291.2 758.3,291.3C757.6,291.4 755.8,291.3 755.3,291.3L755.3,282.4Z" fill="#ffff00"/>
<path d="M912.5,282.4C912.5,282.9 912.2,283.2 912.5,285.4C912.8,287.6 913.1,292.5 914.2,295.8C915.3,299.1 917.2,302.6 919.0,305.1C920.7,307.6 923.0,309.6 924.7,310.9C926.5,312.2 928.2,312.5 929.5,312.8C930.8,313.1 932.0,312.8 932.5,312.8L932.5,282.4Z" fill="#00ffff"/>
<path d="M919.5,282.4C919.5,282.9 919.3,283.6 919.5,285.4C919.7,287.2 919.9,290.9 920.5,293.4C921.1,295.9 922.3,298.6 923.3,300.5C924.3,302.4 925.7,303.9 926.7,304.9C927.7,305.9 928.5,306.2 929.5,306.4C930.5,306.6 932.0,306.4 932.5,306.4L932.5,282.4Z" fill="#00f000"/>
<path d="M924.9,282.4C924.9,282.9 924.8,284.6 924.9,285.4C925.0,286.2 925.1,286.8 925.4,287.4C925.7,288.0 926.2,288.7 926.6,289.1C927.1,289.6 927.7,290.0 928.2,290.2C928.7,290.5 928.8,290.5 929.5,290.6C930.2,290.7 932.0,290.6 932.5,290.6L932.5,282.4Z" fill="#ffff00"/>
<path d="M784.0,459.3C784.2,458.7 784.0,457.8 784.8,455.8C785.6,453.7 786.9,450.0 788.6,447.0C790.4,444.0 792.6,440.2 795.6,437.8C798.5,435.3 802.0,433.4 806.4,432.4C810.7,431.3 816.6,432.3 821.8,431.6C826.9,430.9 833.0,428.5 837.2,428.2C841.3,428.0 843.1,429.4 846.4,430.1C849.7,430.7 853.1,431.9 857.2,432.4C861.3,432.8 866.4,432.8 871.0,432.8C875.7,432.9 881.0,432.1 884.9,432.8C888.7,433.5 891.8,434.9 894.1,437.0C896.4,439.1 897.2,442.3 898.7,445.5C900.3,448.6 902.5,453.5 903.4,455.8C904.3,458.1 904.0,458.7 904.1,459.3Z" fill="#0000ff"/>
<path d="M803.3,459.3C804.0,458.7 805.8,457.2 807.9,455.8C809.9,454.4 812.3,452.3 815.6,450.8C818.9,449.4 823.8,447.8 827.9,447.0C832.0,446.2 836.1,446.1 840.2,446.2C844.3,446.4 848.4,447.4 852.6,447.8C856.7,448.1 861.3,447.8 864.9,448.5C868.5,449.3 871.5,451.2 874.1,452.4C876.7,453.6 878.6,454.6 880.3,455.8C881.9,456.9 883.5,458.7 884.1,459.3Z" fill="#000096"/>
<path d="M775.5,458.8C775.5,458.3 775.8,458.3 775.5,455.8C775.2,453.3 774.9,447.5 773.8,443.7C772.7,439.9 770.7,435.8 769.0,432.8C767.2,429.9 764.9,427.6 763.1,426.1C761.3,424.6 759.6,424.3 758.3,423.9C757.0,423.5 755.8,423.9 755.3,423.9L755.3,458.8Z" fill="#00ffff"/>
<path d="M768.6,458.8C768.6,458.3 768.8,457.7 768.6,455.8C768.4,453.9 768.2,450.1 767.6,447.5C766.9,444.9 765.8,442.0 764.7,440.0C763.6,438.0 762.2,436.5 761.2,435.4C760.1,434.4 759.3,434.2 758.3,433.9C757.3,433.6 755.8,433.9 755.3,433.9L755.3,458.8Z" fill="#00f000"/>
<path d="M761.7,458.8C761.7,458.3 761.8,456.7 761.7,455.8C761.6,454.9 761.6,454.1 761.4,453.3C761.1,452.5 760.8,451.7 760.4,451.1C760.1,450.5 759.6,450.1 759.3,449.8C758.9,449.5 759.0,449.4 758.3,449.3C757.6,449.2 755.8,449.3 755.3,449.3L755.3,458.8Z" fill="#ffff00"/>
<path d="M912.5,458.8C912.5,458.3 912.2,458.3 912.5,455.8C912.8,453.3 913.1,447.5 914.2,443.6C915.3,439.8 917.2,435.7 919.0,432.8C920.7,429.8 923.0,427.5 924.7,426.0C926.5,424.5 928.2,424.2 929.5,423.8C930.8,423.4 932.0,423.8 932.5,423.8L932.5,458.8Z" fill="#00ffff"/>
<path d="M918.7,458.8C918.7,458.3 918.5,457.6 918.7,455.8C918.9,454.0 919.1,450.3 919.8,447.8C920.5,445.3 921.7,442.6 922.8,440.7C923.9,438.8 925.4,437.2 926.5,436.3C927.6,435.3 928.5,435.0 929.5,434.8C930.5,434.6 932.0,434.8 932.5,434.8L932.5,458.8Z" fill="#00f000"/>
<path d="M926.1,458.8C926.1,458.3 926.0,456.8 926.1,455.8C926.2,454.8 926.2,453.9 926.4,453.1C926.7,452.2 927.0,451.3 927.4,450.6C927.7,450.0 928.2,449.4 928.5,449.1C928.9,448.8 928.8,448.7 929.5,448.6C930.2,448.5 932.0,448.6 932.5,448.6L932.5,458.8Z" fill="#ffff00"/>
</g>
<g stroke="#000" stroke-width="2.1" fill="#000">
<circle cx="746.3" cy="463.8" r="5" stroke="none"/>
<line x1="746.3" y1="463.8" x2="746.3" y2="416.2"/>
<path d="M746.3,409.2 l-5,9.6 l10,0 Z" stroke="none"/>
<line x1="746.3" y1="463.8" x2="802.5" y2="463.8"/>
<path d="M809.5,463.8 l-9.6,-5 l0,10 Z" stroke="none"/>
</g>
<text x="747.0" y="403.2" text-anchor="middle" class="ax">Z</text>
<text x="812.0" y="472.0" text-anchor="start" class="ax">X</text>
<text x="734.0" y="484.5" text-anchor="start" class="ax">Y(+)</text>
<clipPath id="c9"><rect x="756.0" y="504.0" width="177.9" height="158.8" rx="0.0"/></clipPath>
<g clip-path="url(#c9)">
<rect x="755.0" y="503.0" width="179.9" height="160.8" fill="#a0f0ff"/>
<path d="M800.5,500.0C800.8,500.7 801.2,501.9 802.1,504.0C803.0,506.1 803.8,509.7 806.1,512.7C808.4,515.8 812.2,519.5 815.6,522.3C819.1,525.1 823.1,527.6 826.8,529.4C830.5,531.3 834.5,532.8 837.9,533.4C841.4,534.0 843.8,533.6 847.5,533.1C851.2,532.6 856.2,531.6 860.2,530.2C864.2,528.8 867.9,526.8 871.3,524.7C874.8,522.5 878.5,520.0 880.9,517.5C883.3,515.0 884.5,511.8 885.7,509.5C886.8,507.3 887.4,505.6 888.0,504.0C888.7,502.4 889.4,500.7 889.6,500.0Z" fill="#0000ff"/>
<path d="M822.8,500.0C823.1,500.7 823.5,502.1 824.4,504.0C825.3,505.8 826.4,509.0 828.4,511.1C830.4,513.3 833.7,515.6 836.3,516.7C839.0,517.8 841.4,518.0 844.3,517.8C847.2,517.7 851.2,517.0 853.8,515.9C856.5,514.8 858.6,513.1 860.2,511.1C861.8,509.1 862.6,505.8 863.4,504.0C864.1,502.1 864.4,500.7 864.6,500.0Z" fill="#000096"/>
<path d="M752.0,531.8C752.7,532.0 753.9,532.1 756.0,532.6C758.1,533.1 761.9,533.8 764.7,535.0C767.5,536.2 770.3,537.4 772.7,539.8C775.1,542.2 777.2,546.4 779.0,549.3C780.9,552.2 782.6,554.6 783.8,557.3C785.0,559.9 785.1,562.6 786.2,565.2C787.3,567.9 789.1,570.8 790.2,573.2C791.2,575.6 792.6,576.2 792.6,579.6C792.5,582.9 790.9,588.5 789.9,593.1C788.8,597.8 787.5,603.7 786.2,607.5C784.9,611.2 784.0,612.8 782.2,615.4C780.5,618.1 778.3,621.0 775.9,623.4C773.5,625.8 770.3,628.0 767.9,629.7C765.5,631.5 763.5,632.8 761.5,633.7C759.6,634.6 757.6,634.9 756.0,635.3C754.4,635.7 752.7,636.0 752.0,636.1Z" fill="#0000ff"/>
<path d="M752.0,550.9C752.7,551.3 754.4,552.2 756.0,553.3C757.6,554.4 759.7,555.0 761.5,557.3C763.4,559.5 765.5,563.6 767.1,566.8C768.7,570.0 770.3,573.8 771.1,576.4C771.9,578.9 772.2,579.5 771.9,582.0C771.6,584.5 770.7,588.1 769.5,591.5C768.3,595.0 766.3,599.5 764.7,602.7C763.1,605.9 761.4,608.5 760.0,610.6C758.5,612.8 757.3,614.0 756.0,615.4C754.7,616.9 752.7,618.7 752.0,619.4Z" fill="#000096"/>
<path d="M938.2,533.4C937.4,533.5 936.2,533.7 933.9,534.2C931.5,534.7 926.8,535.4 923.8,536.6C920.8,537.8 918.0,539.2 915.9,541.4C913.8,543.5 912.6,546.4 911.1,549.3C909.7,552.2 908.5,555.4 907.1,558.9C905.8,562.3 904.4,566.6 903.2,570.0C901.9,573.5 900.5,576.2 899.7,579.6C898.8,582.9 897.5,585.8 898.1,590.0C898.6,594.1 901.4,600.0 903.2,604.3C904.9,608.5 906.3,611.7 908.7,615.4C911.1,619.1 914.7,623.9 917.5,626.6C920.3,629.2 922.7,630.1 925.4,631.3C928.2,632.5 931.7,633.2 933.9,633.7C936.0,634.2 937.4,634.4 938.2,634.5Z" fill="#0000ff"/>
<path d="M938.2,552.5C937.4,552.9 935.7,553.8 933.9,554.9C932.0,556.0 929.0,556.9 927.0,558.9C925.1,560.9 923.6,563.9 922.2,566.8C920.9,569.7 919.7,573.8 919.1,576.4C918.4,578.9 918.0,579.5 918.3,582.0C918.5,584.5 919.5,588.1 920.7,591.5C921.8,595.0 923.8,599.5 925.4,602.7C927.0,605.9 928.8,608.5 930.2,610.6C931.6,612.8 932.5,614.0 933.9,615.4C935.2,616.9 937.4,618.7 938.2,619.4Z" fill="#000096"/>
<path d="M812.5,576.4C812.1,575.4 810.0,573.3 810.1,572.4C810.2,571.4 813.2,568.5 813.3,566.8C813.3,565.2 810.6,557.1 810.9,555.7C811.1,554.3 814.1,553.1 815.6,552.5C817.2,551.9 824.2,549.6 826.8,549.3C829.3,549.1 838.2,550.1 841.1,550.1C844.0,550.2 852.1,549.6 855.4,549.6C858.8,549.6 872.4,549.4 874.5,550.1C876.6,550.9 875.9,555.6 876.1,557.3C876.3,558.9 877.1,564.9 876.9,566.8C876.7,568.7 874.8,574.9 874.5,576.4C874.2,577.9 873.7,580.5 873.7,582.0C873.7,583.5 874.2,589.6 874.5,591.5C874.8,593.5 876.7,599.0 876.9,601.1C877.1,603.2 877.3,610.6 876.9,612.2C876.5,613.9 874.6,617.2 872.9,617.8C871.3,618.4 862.7,617.7 860.2,617.8C857.6,617.9 850.0,618.8 847.5,618.9C844.9,619.0 837.3,618.9 834.7,618.6C832.2,618.3 824.1,616.6 822.0,616.2C819.9,615.8 814.8,615.2 814.1,614.6C813.3,614.1 815.2,612.0 814.8,610.6C814.5,609.3 811.3,603.0 810.9,601.1C810.4,599.2 809.8,593.5 810.1,591.5C810.3,589.6 813.0,583.5 813.3,582.0C813.5,580.5 812.8,577.3 812.5,576.4Z" fill="#00ffff"/>
<path d="M790.2,501.0C790.2,501.5 790.8,502.4 790.2,504.0C789.6,505.6 788.9,508.5 786.8,510.6C784.6,512.8 780.7,515.0 777.2,516.6C773.7,518.2 769.1,519.5 765.6,520.3C762.0,521.1 758.1,521.3 756.0,521.5C753.9,521.7 753.5,521.5 753.0,521.5L753.0,501.0Z" fill="#00ffff"/>
<path d="M781.5,501.0C781.5,501.5 781.9,503.0 781.5,504.0C781.1,505.0 780.6,506.1 779.0,507.0C777.3,508.0 774.4,509.0 771.8,509.8C769.2,510.5 765.8,511.1 763.1,511.4C760.5,511.8 757.7,511.9 756.0,512.0C754.3,512.1 753.5,512.0 753.0,512.0L753.0,501.0Z" fill="#00f000"/>
<path d="M766.0,501.0C766.0,501.5 766.2,503.4 766.0,504.0C765.8,504.6 765.6,504.6 765.0,504.8C764.4,505.1 763.2,505.4 762.2,505.6C761.2,505.8 759.8,505.9 758.8,506.0C757.8,506.1 757.0,506.2 756.0,506.2C755.0,506.2 753.5,506.2 753.0,506.2L753.0,501.0Z" fill="#ffff00"/>
<path d="M901.6,501.0C901.6,501.5 901.1,502.4 901.6,504.0C902.1,505.6 902.8,508.5 904.8,510.6C906.9,512.8 910.5,515.0 913.9,516.6C917.2,518.2 921.5,519.5 924.9,520.3C928.2,521.1 931.9,521.3 933.9,521.5C935.9,521.7 936.4,521.5 936.9,521.5L936.9,501.0Z" fill="#00ffff"/>
<path d="M911.1,501.0C911.1,501.5 910.7,503.0 911.1,504.0C911.5,505.0 911.9,506.1 913.4,507.0C914.8,508.0 917.4,509.0 919.8,509.8C922.1,510.5 925.2,511.1 927.5,511.4C929.9,511.8 932.3,511.9 933.9,512.0C935.5,512.1 936.4,512.0 936.9,512.0L936.9,501.0Z" fill="#00f000"/>
<path d="M928.9,501.0C928.9,501.5 928.8,503.4 928.9,504.0C929.0,504.6 929.1,504.4 929.4,504.6C929.7,504.8 930.3,504.9 930.8,505.1C931.3,505.2 932.0,505.3 932.5,505.4C933.0,505.5 933.2,505.5 933.9,505.5C934.6,505.5 936.4,505.5 936.9,505.5L936.9,501.0Z" fill="#ffff00"/>
<path d="M800.5,666.3C800.8,665.7 801.3,664.7 802.1,662.8C802.9,661.0 803.7,657.8 805.3,655.2C806.9,652.6 809.4,649.5 811.7,647.2C813.9,645.0 816.3,643.2 818.8,641.7C821.3,640.1 823.3,639.1 826.8,638.0C830.2,636.9 835.3,635.5 839.5,635.3C843.8,635.1 847.7,636.4 852.2,636.9C856.7,637.3 863.1,636.8 866.6,638.0C870.0,639.2 870.8,642.2 872.9,644.1C875.0,645.9 877.4,647.0 879.3,648.8C881.1,650.7 882.7,652.9 884.1,655.2C885.4,657.5 886.5,661.0 887.2,662.8C888.0,664.7 888.3,665.7 888.5,666.3Z" fill="#0000ff"/>
<path d="M825.5,666.3C825.7,665.7 826.0,664.4 826.8,662.8C827.5,661.2 828.4,658.6 830.0,656.8C831.6,655.0 833.9,653.1 836.3,652.0C838.7,650.9 841.4,650.1 844.3,650.1C847.2,650.1 851.2,650.9 853.8,652.0C856.5,653.1 858.6,655.0 860.2,656.8C861.8,658.6 862.7,661.2 863.4,662.8C864.1,664.4 864.2,665.7 864.3,666.3Z" fill="#000096"/>
<path d="M787.8,665.8C787.8,665.3 788.3,664.4 787.8,662.8C787.3,661.2 786.6,658.3 784.6,656.3C782.6,654.2 779.0,652.0 775.7,650.4C772.4,648.8 768.2,647.6 764.9,646.8C761.6,646.0 758.0,645.8 756.0,645.6C754.0,645.4 753.5,645.6 753.0,645.6L753.0,665.8Z" fill="#00ffff"/>
<path d="M779.9,665.8C779.9,665.3 780.3,663.8 779.9,662.8C779.5,661.8 779.0,660.8 777.5,659.9C776.0,659.0 773.3,658.0 770.8,657.3C768.3,656.6 765.2,656.1 762.7,655.7C760.2,655.4 757.6,655.3 756.0,655.2C754.4,655.1 753.5,655.2 753.0,655.2L753.0,665.8Z" fill="#00f000"/>
<path d="M769.0,665.8C769.0,665.3 769.2,663.4 769.0,662.8C768.8,662.2 768.5,662.4 767.7,662.2C766.9,662.0 765.4,661.8 764.1,661.6C762.7,661.5 761.0,661.4 759.6,661.3C758.3,661.2 757.1,661.2 756.0,661.2C754.9,661.2 753.5,661.2 753.0,661.2L753.0,665.8Z" fill="#ffff00"/>
<path d="M900.9,665.8C900.9,665.3 900.4,664.4 900.9,662.8C901.4,661.2 902.1,658.3 904.2,656.3C906.3,654.2 910.0,652.0 913.4,650.4C916.8,648.8 921.2,647.6 924.7,646.8C928.1,646.0 931.9,645.8 933.9,645.6C935.9,645.4 936.4,645.6 936.9,645.6L936.9,665.8Z" fill="#00ffff"/>
<path d="M909.6,665.8C909.6,665.3 909.2,663.8 909.6,662.8C910.0,661.8 910.5,660.8 912.0,659.9C913.6,659.0 916.3,658.0 918.8,657.3C921.3,656.6 924.6,656.1 927.1,655.7C929.6,655.4 932.3,655.3 933.9,655.2C935.5,655.1 936.4,655.2 936.9,655.2L936.9,665.8Z" fill="#00f000"/>
<path d="M923.9,665.8C923.9,665.3 923.7,663.4 923.9,662.8C924.1,662.2 924.3,662.4 924.9,662.2C925.5,662.0 926.7,661.9 927.7,661.7C928.7,661.6 930.1,661.5 931.1,661.4C932.1,661.3 932.9,661.3 933.9,661.3C934.9,661.3 936.4,661.3 936.9,661.3L936.9,665.8Z" fill="#ffff00"/>
</g>
<g stroke="#000" stroke-width="2.1" fill="#000">
<circle cx="943.2" cy="671.0" r="5" stroke="none"/>
<line x1="943.2" y1="671.0" x2="943.2" y2="624.3"/>
<path d="M943.2,617.3 l-5,9.6 l10,0 Z" stroke="none"/>
<line x1="943.2" y1="671.0" x2="892.1" y2="671.0"/>
<path d="M885.1,671.0 l9.6,-5 l0,10 Z" stroke="none"/>
</g>
<text x="943.8" y="612.0" text-anchor="middle" class="ax">Y</text>
<text x="882.0" y="678.5" text-anchor="end" class="ax">X</text>
<text x="931.0" y="693.0" text-anchor="start" class="ax">Z(+)</text>
<rect x="1054.7" y="389.00" width="17.6" height="33.01" fill="#ff0000"/>
<rect x="1054.7" y="421.61" width="17.6" height="33.01" fill="#ff9914"/>
<rect x="1054.7" y="454.23" width="17.6" height="33.01" fill="#ffff00"/>
<rect x="1054.7" y="486.84" width="17.6" height="33.01" fill="#00ec00"/>
<rect x="1054.7" y="519.45" width="17.6" height="33.01" fill="#00ffff"/>
<rect x="1054.7" y="552.06" width="17.6" height="33.01" fill="#87ceeb"/>
<rect x="1054.7" y="584.67" width="17.6" height="33.01" fill="#0000ff"/>
<rect x="1054.7" y="617.29" width="17.6" height="33.01" fill="#00008b"/>
<text x="1046.2" y="393.4" text-anchor="end" class="lv" style="font-size:13.6px">13.8</text>
<text x="1046.2" y="426.0" text-anchor="end" class="lv" style="font-size:13.6px">12.4</text>
<text x="1046.2" y="458.6" text-anchor="end" class="lv" style="font-size:13.6px">11.0</text>
<text x="1046.2" y="491.2" text-anchor="end" class="lv" style="font-size:13.6px">9.56</text>
<text x="1046.2" y="523.9" text-anchor="end" class="lv" style="font-size:13.6px">8.15</text>
<text x="1046.2" y="556.5" text-anchor="end" class="lv" style="font-size:13.6px">6.74</text>
<text x="1046.2" y="589.1" text-anchor="end" class="lv" style="font-size:13.6px">5.32</text>
<text x="1046.2" y="621.7" text-anchor="end" class="lv" style="font-size:13.6px">3.91</text>
<text x="1046.2" y="654.3" text-anchor="end" class="lv" style="font-size:13.6px">2.50</text>
<text x="1024.3" y="373.0" text-anchor="middle" class="ti" style="font-size:14.2px">Effective strain</text>
<text x="1001.7" y="673.5" class="mm" style="font-size:16.5px">Min. 2.54</text>
<text x="1001.7" y="693.5" class="mm" style="font-size:16.5px">Max. 15.1</text>
<path d="M1039.8,114.9L1076.3,81.2L1076.3,202.9L1039.8,236.6Z" fill="#dbe9f6" fill-opacity="0.80"/>
<path d="M980.5,159.7L1114.1,195.3L1152.5,163.3L1019.5,129.9Z" fill="#e0efd6" fill-opacity="0.80"/>
<path d="M979.6,96.8L1113.1,134.9L1113.1,257.6L979.6,218.5Z" fill="#fbe3d4" fill-opacity="0.72"/>
<path d="M941.5,189.5L1075.7,227.3L1114.1,195.3L980.5,159.7Z" fill="#e0efd6" fill-opacity="0.75"/>
<path d="M1004.5,148.6L1039.8,114.9L1039.8,236.6L1004.5,269.1Z" fill="#dbe9f6" fill-opacity="0.72"/>
<path d="M979.6,96.8L1113.1,134.9L1113.1,257.6L979.6,218.5Z" fill="none" stroke="#f4b183" stroke-width="0.8" stroke-opacity="0.9"/>
<path d="M941.5,189.5L1075.7,227.3L1152.5,163.3L1019.5,129.9Z" fill="none" stroke="#a9d18e" stroke-width="0.8"/>
<path d="M1004.5,148.6L1039.8,114.9L1039.8,236.6L1004.5,269.1Z" fill="none" stroke="#9dc3e6" stroke-width="0.8"/>
<path d="M1039.8,114.9 L1076.3,81.2 L1076.3,100.6" fill="none" stroke="#9dc3e6" stroke-width="0.8"/>
<path d="M1076.3,100.6 L1076.3,202.9 L1039.8,236.6" fill="none" stroke="#9dc3e6" stroke-width="0.7" stroke-opacity="0.35"/>
<line x1="1039.8" y1="114.9" x2="1039.8" y2="236.6" stroke="#9dc3e6" stroke-width="0.8"/>
<line x1="980.5" y1="159.7" x2="1114.1" y2="195.3" stroke="#a9d18e" stroke-width="0.7"/>
<g stroke="#444" stroke-width="0.65" stroke-dasharray="1.6,1.4" fill="none">
<line x1="1019.5" y1="63.4" x2="1019.5" y2="185.8" />
<line x1="1019.5" y1="185.8" x2="941.5" y2="251.3" />
<line x1="1019.5" y1="185.8" x2="1153.1" y2="221.7" />
</g>
<g stroke="#858585" stroke-width="1.5" fill="none" stroke-linecap="round">
<line x1="941.5" y1="130.2" x2="1019.5" y2="63.4" />
<line x1="1019.5" y1="63.4" x2="1153.1" y2="101.5" />
<line x1="1153.1" y1="101.5" x2="1153.1" y2="221.7" />
<line x1="1153.1" y1="221.7" x2="1075.7" y2="288.8" />
<line x1="1075.7" y1="288.8" x2="941.5" y2="251.3" />
<line x1="941.5" y1="251.3" x2="941.5" y2="130.2" />
<line x1="941.5" y1="130.2" x2="1075.7" y2="167.0" />
<line x1="1075.7" y1="167.0" x2="1153.1" y2="101.5" />
</g>
<g stroke="#606060" stroke-width="1.5" fill="none" stroke-linecap="round">
<line x1="1075.7" y1="167.0" x2="1075.7" y2="288.8" />
</g>
</svg>
</body></html>
